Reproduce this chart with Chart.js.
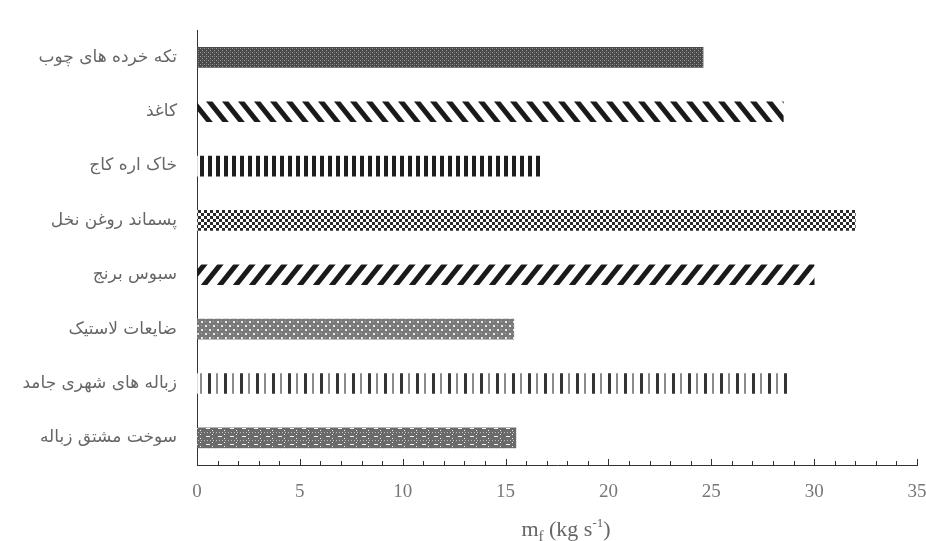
<!DOCTYPE html>
<html>
<head>
<meta charset="utf-8">
<script src="https://cdn.jsdelivr.net/npm/chart.js@4.4.1/dist/chart.umd.min.js"></script>
<style>
  html, body { margin: 0; padding: 0; background: #fff; }
  #wrap { width: 926px; height: 541px; }
</style>
</head>
<body>
<div id="wrap"><canvas id="fuelChart" width="926" height="541"></canvas></div>
<script>
// fuels, top to bottom
const fuels = [
  "تکه خرده های چوب",
  "کاغذ",
  "خاک اره کاج",
  "پسماند روغن نخل",
  "سبوس برنج",
  "ضایعات لاستیک",
  "زباله های شهری جامد",
  "سوخت مشتق زباله",
];
// fuel mass flow m_f in kg/s
const massFlow = [24.6, 28.5, 16.8, 32.0, 30.0, 15.4, 28.8, 15.5];
const xMin = 0;
const xMax = 35;
const xStep = 5;

const serif = "'Liberation Serif', 'Times New Roman', serif";

function tile(w, h, draw) {
  const c = document.createElement("canvas");
  c.width = w;
  c.height = h;
  const g = c.getContext("2d");
  draw(g, w, h);
  return document.createElement("canvas").getContext("2d").createPattern(c, "repeat");
}

function diagonal(dir) {
  return tile(16, 20, (g, w, h) => {
    g.strokeStyle = "#1a1a1a";
    g.lineWidth = 5;
    for (let k = -2; k <= 2; k++) {
      g.beginPath();
      if (dir > 0) {
        g.moveTo(k * w - w, 2 * h);
        g.lineTo(k * w + 2 * w, -h);
      } else {
        g.moveTo(k * w - w, -h);
        g.lineTo(k * w + 2 * w, 2 * h);
      }
      g.stroke();
    }
  });
}

const patterns = [
  // fine dark speckle
  tile(4, 4, (g) => {
    g.fillStyle = "#4a4a4a";
    g.fillRect(0, 0, 4, 4);
    g.fillStyle = "#9a9a9a";
    g.fillRect(0, 0, 1, 1);
    g.fillRect(2, 2, 1, 1);
    g.fillStyle = "#6e6e6e";
    g.fillRect(2, 0, 1, 1);
  }),
  diagonal(-1),
  // dense vertical bars
  tile(8, 8, (g) => {
    g.fillStyle = "#fff";
    g.fillRect(0, 0, 8, 8);
    g.fillStyle = "#1e1e1e";
    g.fillRect(0, 0, 4, 8);
  }),
  // checkerboard
  tile(6, 6, (g) => {
    g.fillStyle = "#fff";
    g.fillRect(0, 0, 6, 6);
    g.fillStyle = "#2a2a2a";
    g.fillRect(0, 0, 3, 3);
    g.fillRect(3, 3, 3, 3);
  }),
  diagonal(1),
  // light lattice
  tile(8, 8, (g) => {
    g.fillStyle = "#7a7a7a";
    g.fillRect(0, 0, 8, 8);
    g.fillStyle = "#e8e8e8";
    g.fillRect(1, 1, 2, 2);
    g.fillRect(5, 5, 2, 2);
    g.fillStyle = "#b0b0b0";
    g.fillRect(5, 1, 1, 1);
    g.fillRect(1, 5, 1, 1);
  }),
  // thin vertical lines, alternating weight
  tile(16, 8, (g) => {
    g.fillStyle = "#fff";
    g.fillRect(0, 0, 16, 8);
    g.fillStyle = "#333";
    g.fillRect(0, 0, 3, 8);
    g.fillStyle = "#8a8a8a";
    g.fillRect(8, 0, 2, 8);
  }),
  // dotted grid with dashes
  tile(12, 8, (g) => {
    g.fillStyle = "#6a6a6a";
    g.fillRect(0, 0, 12, 8);
    g.fillStyle = "#bdbdbd";
    g.fillRect(0, 0, 1, 1);
    g.fillRect(3, 0, 1, 1);
    g.fillRect(6, 0, 1, 1);
    g.fillRect(9, 0, 1, 1);
    g.fillStyle = "#f4f4f4";
    g.fillRect(2, 4, 4, 1);
    g.fillRect(8, 2, 1, 1);
    g.fillRect(8, 6, 1, 1);
  }),
];

// small inward ticks on the x axis, one per unit
const minorTicks = {
  id: "minorTicks",
  afterDraw(chart) {
    const x = chart.scales.x;
    const ctx = chart.ctx;
    const y0 = chart.chartArea.bottom;
    ctx.save();
    ctx.strokeStyle = "#333";
    ctx.lineWidth = 1;
    for (let v = xMin + 1; v <= xMax; v++) {
      const px = Math.round(x.getPixelForValue(v)) + 0.5;
      const len = v % xStep === 0 ? 6 : 4;
      ctx.beginPath();
      ctx.moveTo(px, y0);
      ctx.lineTo(px, y0 - len);
      ctx.stroke();
    }
    ctx.restore();
  },
};

// axis title with subscript and superscript
const axisTitle = {
  id: "axisTitle",
  afterDraw(chart) {
    const ctx = chart.ctx;
    const area = chart.chartArea;
    const parts = [
      { t: "m", size: 22, dy: 0 },
      { t: "f", size: 15, dy: 5 },
      { t: " (kg s", size: 22, dy: 0 },
      { t: "-1", size: 13, dy: -9 },
      { t: ")", size: 22, dy: 0 },
    ];
    ctx.save();
    ctx.fillStyle = "#666";
    ctx.textBaseline = "alphabetic";
    let total = 0;
    parts.forEach((p) => {
      ctx.font = p.size + "px " + serif;
      p.w = ctx.measureText(p.t).width;
      total += p.w;
    });
    let cx = (area.left + area.right) / 2 - total / 2 + 9;
    const base = 536;
    parts.forEach((p) => {
      ctx.font = p.size + "px " + serif;
      ctx.fillText(p.t, cx, base + p.dy);
      cx += p.w;
    });
    ctx.restore();
  },
};

new Chart(document.getElementById("fuelChart"), {
  type: "bar",
  data: {
    labels: fuels,
    datasets: [
      {
        data: massFlow,
        backgroundColor: patterns,
        borderWidth: 0,
        barThickness: 20,
      },
    ],
  },
  options: {
    indexAxis: "y",
    responsive: false,
    animation: false,
    layout: { padding: { top: 25, right: 0, left: 0, bottom: 0 } },
    plugins: {
      legend: { display: false },
      tooltip: { enabled: false },
    },
    scales: {
      x: {
        min: xMin,
        max: xMax,
        ticks: {
          stepSize: xStep,
          color: "#777",
          font: { family: serif, size: 19 },
          padding: 16,
          maxRotation: 0,
        },
        grid: { drawOnChartArea: false, drawTicks: false },
        border: { display: true, color: "#333", width: 1 },
        afterFit(scale) {
          scale.height = 76;
          scale.paddingRight = 9;
        },
      },
      y: {
        ticks: {
          color: "#666",
          font: { family: "'DejaVu Sans', sans-serif", size: 17 },
          padding: 20,
        },
        grid: { drawOnChartArea: false, drawTicks: false },
        border: { display: true, color: "#333", width: 1 },
        afterFit(scale) {
          scale.width = 197;
        },
      },
    },
  },
  plugins: [minorTicks, axisTitle],
});
</script>
</body>
</html>
